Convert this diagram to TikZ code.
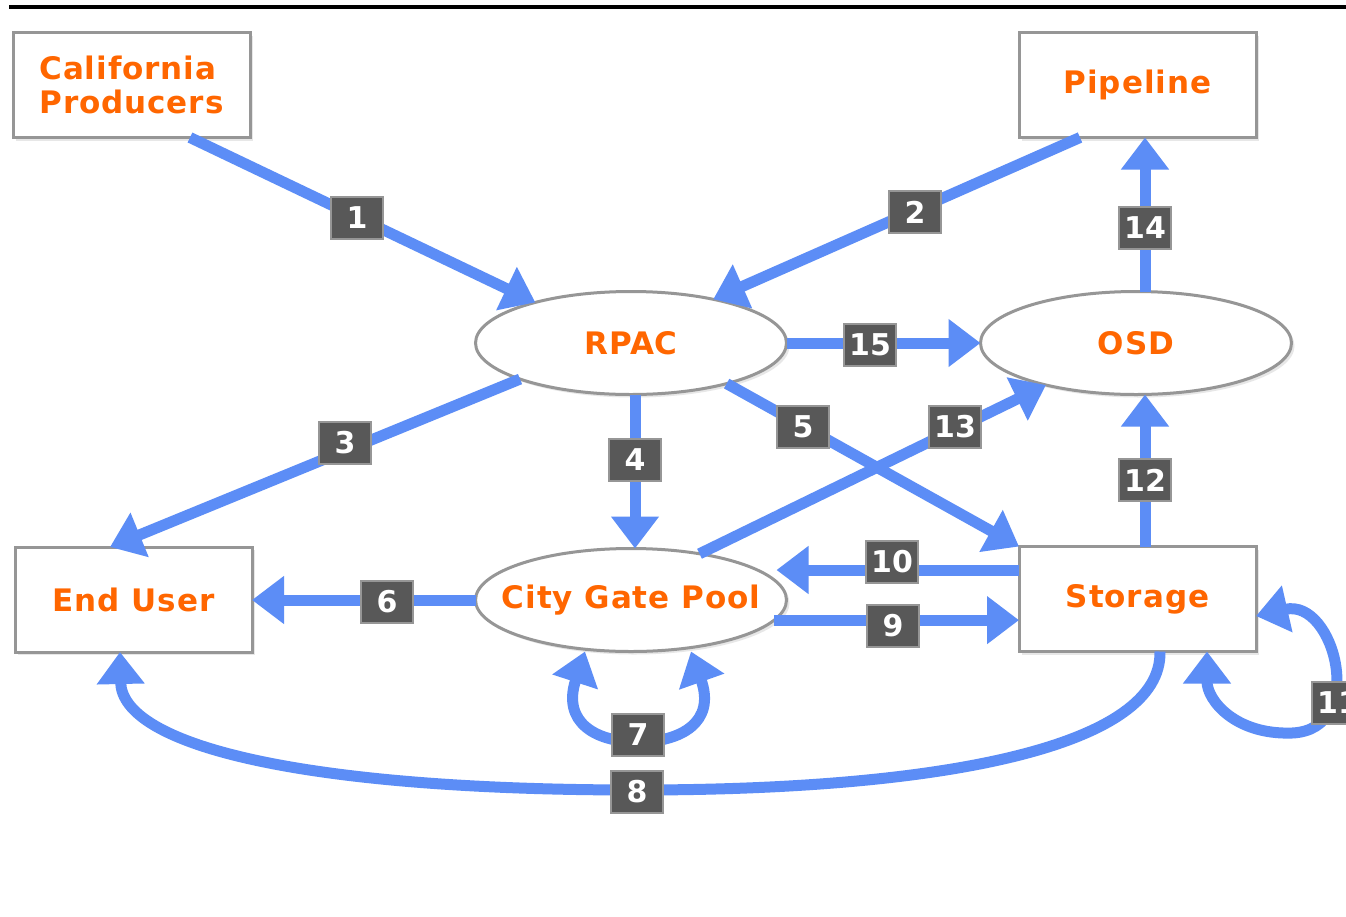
\documentclass[tikz,border=0pt]{standalone}
\usepackage{fontspec}
\setmainfont{DejaVu Sans}
\usetikzlibrary{arrows.meta,shapes.geometric,shadows}
\definecolor{flow}{RGB}{92,141,246}
\definecolor{ora}{RGB}{255,102,0}
\definecolor{lblfill}{RGB}{88,88,88}
\definecolor{lbldraw}{RGB}{150,150,150}
\definecolor{boxdraw}{RGB}{150,150,150}
\begin{document}
\begin{tikzpicture}[x=1pt,y=-1pt,
  ent/.style={draw=boxdraw, line width=3pt, fill=white, text=ora,
    font=\fontsize{31}{34}\selectfont\bfseries\addfontfeatures{LetterSpace=3}, outer sep=0pt, inner sep=0pt,
    drop shadow={fill=black!30, opacity=0.3, shadow xshift=3pt, shadow yshift=-3pt}},
  rbox/.style={ent, rectangle, minimum width=237pt, minimum height=105pt},
  ell/.style={ent, ellipse, inner xsep=-22pt, inner ysep=-4pt, minimum width=311pt, minimum height=103pt},
  lbl/.style={draw=lbldraw, line width=2pt, fill=lblfill, text=white,
    font=\fontsize{30}{30}\selectfont\bfseries, minimum width=52pt, minimum height=42pt, inner sep=1pt},
  flowline/.style={draw=flow, line width=11pt, -{Triangle[length=32pt,width=46pt]}},
  flowboth/.style={draw=flow, line width=11pt, {Triangle[length=32pt,width=46pt]}-{Triangle[length=32pt,width=46pt]}},
]
\useasboundingbox (0,0) rectangle (1346,916);
\fill[white] (0,0) rectangle (1346,916);
\draw[line width=4pt] (9,7) -- (1346,7);

% entities
\node[rbox, align=left] (cp) at (131.5,85) {California\\Producers};
\node[rbox] (pipe) at (1137.5,85) {Pipeline};
\node[ell] (rpac) at (631,343) {RPAC};
\node[ell] (osd) at (1136,343) {OSD};
\node[rbox] (eu) at (133.5,599.5) {End User};
\node[ell] (cgp) at (631,600) {City Gate Pool};
\node[rbox] (st) at (1137.5,599) {Storage};
\coordinate (cgpin) at ([xshift=-10pt]cgp.east);

% flows
\draw[flowline] ([xshift=58.5pt]cp.south) -- (rpac.157);
\draw[flowline] ([xshift=-57.5pt]pipe.south) -- (rpac.28);
\draw[flowline] (rpac.198) -- ([xshift=-23.5pt]eu.north);
\draw[flowline] ([xshift=4pt]rpac.south) -- ([xshift=4pt]cgp.north);
\draw[flowline] (rpac.337) -- (st.north west);
\draw[flowline] (cgp.west) -- (cgp.west -| eu.east);
\draw[flowboth] ([xshift=-46pt]cgp.south) .. controls (562,722) and (595,742) .. (638,742)
  .. controls (681,742) and (716,722) .. ([xshift=60pt]cgp.south);
\draw[flowline] ([xshift=22.5pt]st.south) .. controls (1162,745) and (950,790) .. (637,790)
  .. controls (300,790) and (122,745) .. ([xshift=-13.5pt]eu.south);
\draw[flowline] (cgp.352) -- (cgp.352 -| st.west);
\draw[flowline] ([yshift=29pt]st.west) -- ([yshift=29pt]st.west -| cgpin);
\draw[flowboth] ([yshift=-17pt]st.east) .. controls (1335,598) and (1368,730) .. (1292,733)
  .. controls (1235,735) and (1207,700) .. ([xshift=69.5pt]st.south);
\draw[flowline] ([xshift=7.5pt]st.north) -- ([xshift=9pt]osd.south);
\draw[flowline] (cgp.34) -- (osd.205);
\draw[flowline] ([xshift=9pt]osd.north) -- ([xshift=7.5pt]pipe.south);
\draw[flowline] (rpac.east) -- (osd.west);

% labels
\node[lbl] (l1) at (357,218) {1};
\node[lbl] (l2) at (915,212) {2};
\node[lbl] (l3) at (345,443) {3};
\node[lbl] (l4) at (635,460) {4};
\node[lbl] (l5) at (803,427) {5};
\node[lbl] (l6) at (387,602) {6};
\node[lbl] (l7) at (638,735) {7};
\node[lbl] (l8) at (637,792) {8};
\node[lbl] (l9) at (893,626) {9};
\node[lbl] (l10) at (892,562) {10};
\node[lbl] (l11) at (1338,703) {11};
\node[lbl] (l12) at (1145,480) {12};
\node[lbl] (l13) at (955,427) {13};
\node[lbl] (l14) at (1145,228) {14};
\node[lbl] (l15) at (870,345) {15};
\end{tikzpicture}
\end{document}
